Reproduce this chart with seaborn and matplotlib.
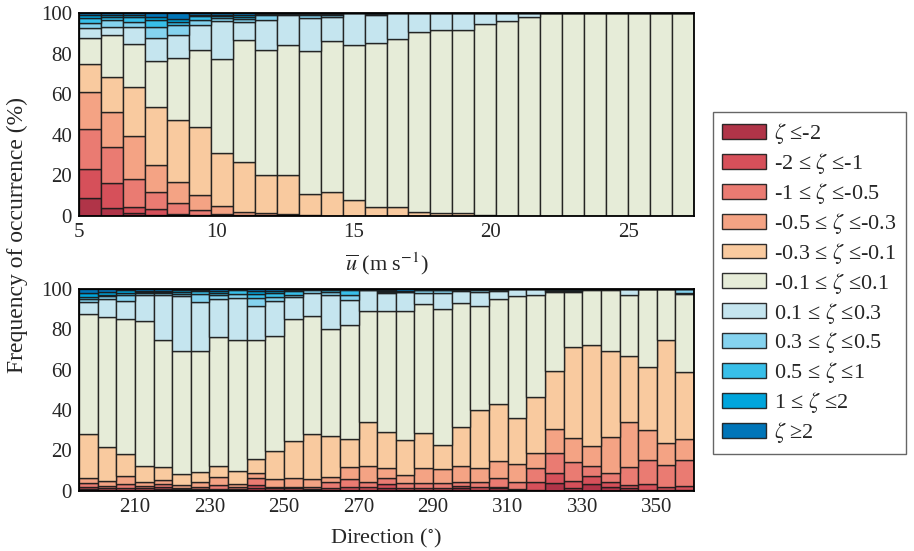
import numpy as np
import pandas as pd
import matplotlib
matplotlib.use('Agg')
import matplotlib.pyplot as plt
import seaborn as sns

# stability classes (legend order, bottom of stack first)
classes = [r'$\zeta$ ≤-2', r'-2 ≤ $\zeta$ ≤-1', r'-1 ≤ $\zeta$ ≤-0.5',
           r'-0.5 ≤ $\zeta$ ≤-0.3', r'-0.3 ≤ $\zeta$ ≤-0.1',
           r'-0.1 ≤ $\zeta$ ≤0.1', r'0.1 ≤ $\zeta$ ≤0.3',
           r'0.3 ≤ $\zeta$ ≤0.5', r'0.5 ≤ $\zeta$ ≤1',
           r'1 ≤ $\zeta$ ≤2', r'$\zeta$ ≥2']
class_colors = ['#b03448', '#d6505a', '#ea7b72', '#f4a384', '#f9ca9f', '#e6ecd8',
                '#c5e5ef', '#85d3ef', '#38bfe9', '#00a5dc', '#0075b8']

# wind speed bins (left edge, m/s) and share of each class (%)
speed_bins = [5.0, 5.8, 6.6, 7.4, 8.2, 9.0, 9.8, 10.6, 11.4, 12.2, 13.0, 13.8, 14.6, 15.4,
              16.2, 17.0, 17.8, 18.6, 19.4, 20.2, 21.0, 21.8, 22.6, 23.4, 24.2, 25.0, 25.8, 26.6]
spd_c1 = [8.8, 3.8, 1.3, 0.5, 0.3, 0.2, 0.1, 0.1, 0, 0, 0, 0, 0, 0, 0, 0, 0, 0, 0, 0, 0, 0, 0, 0, 0, 0, 0, 0]
spd_c2 = [14.3, 12.4, 3.3, 2.8, 0.5, 0.3, 0.1, 0.1, 0.1, 0.1, 0, 0, 0, 0, 0, 0, 0, 0, 0, 0, 0, 0, 0, 0, 0, 0, 0, 0]
spd_c3 = [19.9, 17.7, 13.9, 8.6, 5.8, 2.5, 0.6, 0.3, 0.2, 0.2, 0.1, 0.05, 0, 0, 0, 0, 0, 0, 0, 0, 0, 0, 0, 0, 0, 0, 0, 0]
spd_c4 = [18.2, 17.3, 21.2, 13.2, 10.3, 7.4, 4.2, 1.6, 1.4, 0.5, 0.2, 0.15, 0.1, 0.1, 0.1, 0, 0, 0, 0, 0, 0, 0, 0, 0, 0, 0, 0, 0]
spd_c5 = [14.0, 17.4, 23.9, 28.6, 30.7, 33.4, 25.9, 24.7, 18.5, 19.5, 10.4, 11.7, 7.8, 4.4, 4.4, 2.1, 1.7, 1.3, 0.5, 0, 0, 0, 0, 0, 0, 0, 0, 0]
spd_c6 = [12.9, 20.7, 21.5, 22.8, 30.6, 38.0, 46.5, 60.0, 61.9, 64.3, 70.8, 74.5, 76.4, 81.1, 82.8, 88.8, 90.0, 90.4, 94.5, 96.2, 98.3, 100, 100, 100, 100, 100, 100, 100]
spd_c7 = [4.8, 3.8, 8.3, 11.4, 11.4, 12.4, 18.8, 9.1, 14.9, 14.9, 16.5, 11.9, 15.7, 13.9, 12.7, 9.1, 8.3, 8.3, 5.0, 3.8, 1.7, 0, 0, 0, 0, 0, 0, 0]
spd_c8 = [2.6, 3.6, 2.5, 5.5, 4.6, 2.5, 1.7, 1.3, 2.2, 0.3, 1.2, 1.2, 0, 0.3, 0, 0, 0, 0, 0, 0, 0, 0, 0, 0, 0, 0, 0, 0]
spd_c9 = [2.4, 1.6, 2.4, 3.3, 1.7, 2.1, 0.9, 1.1, 0.4, 0.1, 0.4, 0.3, 0, 0.1, 0, 0, 0, 0, 0, 0, 0, 0, 0, 0, 0, 0, 0, 0]
spd_c10 = [1.3, 0.9, 1.2, 1.6, 1.6, 0.7, 0.7, 0.9, 0.2, 0.05, 0.2, 0.1, 0, 0.05, 0, 0, 0, 0, 0, 0, 0, 0, 0, 0, 0, 0, 0, 0]
spd_c11 = [0.8, 0.8, 0.5, 1.7, 2.5, 0.5, 0.5, 0.8, 0.2, 0.05, 0.2, 0.1, 0, 0.05, 0, 0, 0, 0, 0, 0, 0, 0, 0, 0, 0, 0, 0, 0]

# wind direction bins (left edge, deg) and share of each class (%)
dir_bins = [195, 200, 205, 210, 215, 220, 225, 230, 235, 240, 245, 250, 255, 260, 265, 270, 275,
            280, 285, 290, 295, 300, 305, 310, 315, 320, 325, 330, 335, 340, 345, 350, 355]
dir_c1 = [1.0, 0.5, 0.5, 0.5, 1.0, 0.3, 0.3, 0.3, 0.3, 1.3, 0.5, 0.5, 0.3, 0.5, 0.5, 0.5, 1.3,
          0.5, 0.5, 0.5, 1.3, 0.5, 1.3, 0.5, 0.5, 3.8, 1.3, 3.5, 1.8, 1.3, 0.3, 0.5, 0.5]
dir_c2 = [1.1, 0.8, 0.8, 0.8, 1.1, 0.5, 0.5, 0.5, 0.5, 1.7, 0.8, 0.8, 0.5, 0.8, 1.6, 1.6, 2.2,
          0.8, 0.8, 0.8, 1.2, 1.6, 0.8, 0.5, 4.1, 4.9, 3.7, 3.9, 2.8, 1.7, 3.2, 1.3, 2.1]
dir_c3 = [2.0, 1.3, 2.2, 1.3, 1.4, 0.5, 1.3, 2.2, 1.3, 3.3, 0.8, 0.8, 1.3, 3.0, 3.8, 2.5, 2.8,
          2.5, 2.5, 2.5, 2.1, 2.5, 4.5, 3.6, 6.6, 10.3, 9.5, 5.1, 4.5, 8.7, 11.8, 11.1, 12.7]
dir_c4 = [2.2, 2.4, 3.9, 2.0, 1.9, 1.7, 2.2, 3.8, 1.4, 2.8, 3.8, 4.5, 3.8, 2.5, 5.8, 7.9, 4.9,
          4.1, 7.4, 6.9, 7.8, 6.6, 8.3, 8.6, 7.8, 11.7, 11.9, 9.9, 17.8, 22.6, 14.9, 10.7, 10.3]
dir_c5 = [21.8, 16.6, 10.9, 7.9, 6.3, 5.3, 4.9, 5.6, 6.6, 6.7, 13.9, 18.3, 22.2, 20.4, 14.0, 21.5, 17.7,
          17.3, 17.3, 12.1, 19.4, 28.9, 28.0, 22.8, 27.4, 28.7, 44.6, 49.9, 42.1, 32.5, 31.0, 50.8, 33.1]
dir_c6 = [59.4, 64.4, 66.4, 71.3, 62.7, 61.0, 60.1, 63.5, 64.7, 58.6, 56.6, 59.8, 58.5, 53.0, 56.1, 55.1, 59.9,
          63.9, 63.9, 67.1, 61.1, 51.5, 51.7, 60.5, 50.6, 38.8, 27.2, 27.2, 30.5, 30.2, 38.8, 25.6, 38.8]
dir_c7 = [5.9, 9.0, 9.0, 13.2, 22.6, 26.9, 24.1, 19.1, 20.6, 16.9, 17.3, 11.2, 11.3, 16.5, 12.4, 10.1, 9.1,
          9.2, 5.5, 8.0, 5.8, 6.7, 4.1, 3.5, 3.0, 0.8, 0.5, 0.2, 0.5, 3.0, 0, 0, 0.1]
dir_c8 = [1.5, 1.2, 3.0, 0.9, 0.9, 1.3, 4.1, 1.7, 2.1, 4.1, 2.2, 1.1, 1.3, 1.6, 2.5, 0.3, 0.4,
          0.2, 1.3, 1.3, 0.5, 1.2, 0.5, 0, 0, 0.2, 0.3, 0.1, 0, 0, 0, 0, 2.4]
dir_c9 = [1.0, 0.8, 1.2, 0.4, 0.4, 0.8, 1.5, 1.2, 1.7, 2.1, 2.0, 1.7, 0.4, 0.9, 2.8, 0.2, 0.4,
          0.2, 0.3, 0.3, 0.3, 0.2, 0.3, 0, 0, 0.2, 0.3, 0.1, 0, 0, 0, 0, 0]
dir_c10 = [2.0, 1.3, 1.3, 0.7, 0.7, 0.9, 0.5, 1.1, 0.4, 1.5, 1.1, 0.8, 0.2, 0.4, 0.3, 0.1, 0.5,
           0.3, 0.3, 0.3, 0.3, 0.2, 0.3, 0, 0, 0.2, 0.3, 0.05, 0, 0, 0, 0, 0]
dir_c11 = [2.1, 1.7, 0.8, 1.0, 1.0, 0.8, 0.5, 1.0, 0.4, 1.0, 1.0, 0.5, 0.2, 0.4, 0.2, 0.2, 0.8,
           1.0, 0.2, 0.2, 0.2, 0.1, 0.2, 0, 0, 0.4, 0.4, 0.05, 0, 0, 0, 0, 0]

speed_df = pd.DataFrame(dict(zip(classes, [spd_c1, spd_c2, spd_c3, spd_c4, spd_c5, spd_c6,
                                           spd_c7, spd_c8, spd_c9, spd_c10, spd_c11])), index=speed_bins)
dir_df = pd.DataFrame(dict(zip(classes, [dir_c1, dir_c2, dir_c3, dir_c4, dir_c5, dir_c6,
                                         dir_c7, dir_c8, dir_c9, dir_c10, dir_c11])), index=dir_bins)

sns.set_theme(style='white')
plt.rcParams['font.family'] = 'serif'
plt.rcParams['font.serif'] = ['Liberation Serif', 'DejaVu Serif']
plt.rcParams['mathtext.fontset'] = 'stix'
palette = sns.color_palette(class_colors)


def stacked_bars(ax, df, width):
    bottom = np.zeros(len(df))
    for lab, col in zip(classes, palette):
        ax.bar(df.index, df[lab].values, width=width, bottom=bottom, align='edge',
               color=col, edgecolor=(0.1, 0.1, 0.1, 0.9), linewidth=1.0, label=lab)
        bottom += df[lab].values


fig = plt.figure(figsize=(9.14, 5.51), dpi=100)
ax1 = fig.add_axes([0.0864, 0.608, 0.673, 0.3675])
ax2 = fig.add_axes([0.0864, 0.1089, 0.673, 0.3675])

stacked_bars(ax1, speed_df, 0.8)
stacked_bars(ax2, dir_df, 5)

ax1.set_xlim(5, 27.4)
ax1.set_xticks([5, 10, 15, 20, 25])
ax1.set_xlabel(r'$\overline{u}$ (m s$^{-1}$)', fontsize=16, labelpad=6)
ax2.set_xlim(195, 360)
ax2.set_xticks([210, 230, 250, 270, 290, 310, 330, 350])
ax2.set_xlabel(r'Direction ($^{\circ}$)', fontsize=16, labelpad=7)

for ax in (ax1, ax2):
    ax.set_ylim(0, 100)
    ax.set_yticks([0, 20, 40, 60, 80, 100])
    ax.tick_params(length=0, labelsize=15, pad=5)
    for s in ax.spines.values():
        s.set_color('black')
        s.set_linewidth(1.3)

fig.text(0.019, 0.573, 'Frequency of occurrence (%)', rotation=90, ha='center', va='center', fontsize=17)

handles, labels = ax1.get_legend_handles_labels()
fig.legend(handles, labels, loc='center left', bbox_to_anchor=(0.78, 0.486), fontsize=16,
           frameon=True, fancybox=False, edgecolor='#666666', framealpha=1,
           handlelength=2.0, handleheight=0.65, labelspacing=0.22, handletextpad=0.35,
           borderpad=0.4, borderaxespad=0)

fig.savefig('out.png', dpi=100)
